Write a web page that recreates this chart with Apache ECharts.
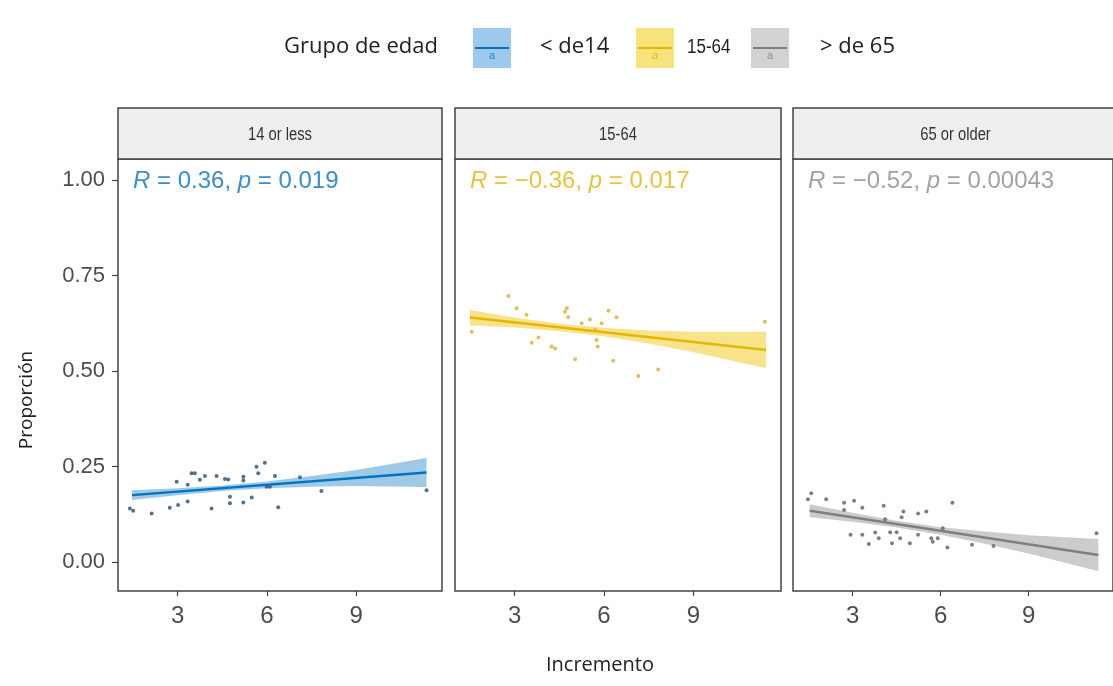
<!DOCTYPE html>
<html>
<head>
<meta charset="utf-8">
<script src="https://cdn.jsdelivr.net/npm/echarts@6/dist/echarts.min.js"></script>
<style>
  html, body { margin: 0; padding: 0; background: #fff; }
  #chart { width: 1113px; height: 686px; }
</style>
</head>
<body>
<div id="chart"></div>
<script>
// panel names and legend labels
const panels = ["14 or less", "15-64", "65 or older"];
const groups = ["< de14", "15-64", "> de 65"];
const stats = [["0.36", "0.019"], ["\u22120.36", "0.017"], ["\u22120.52", "0.00043"]];
const xTicks = [3, 6, 9];
const yTicks = [0, 0.25, 0.5, 0.75, 1];

// scatter points [incremento, proporcion]
const pts14 = [[1.40,0.140],[1.51,0.134],[2.13,0.127],[2.74,0.142],[3.02,0.149],[3.34,0.158],[4.14,0.140],
  [2.97,0.210],[3.34,0.202],[3.47,0.232],[3.58,0.232],[3.75,0.215],[3.92,0.225],[4.31,0.225],[4.59,0.217],
  [4.70,0.216],[4.76,0.171],[4.76,0.154],[5.21,0.156],[5.21,0.223],[5.21,0.213],[5.49,0.169],[5.65,0.249],
  [5.71,0.232],[5.93,0.260],[5.99,0.197],[6.10,0.197],[6.27,0.225],[6.38,0.143],[7.11,0.222],[7.83,0.186],
  [11.36,0.188]];
const pts1564 = [[1.56,0.603],[2.79,0.696],[3.07,0.664],[3.40,0.647],[3.57,0.574],[3.80,0.588],[4.24,0.564],
  [4.36,0.559],[4.69,0.655],[4.75,0.664],[4.80,0.641],[5.03,0.531],[5.25,0.625],[5.53,0.635],[5.70,0.607],
  [5.75,0.581],[5.79,0.564],[5.92,0.625],[6.15,0.658],[6.31,0.527],[6.42,0.641],[7.15,0.487],[7.82,0.504],
  [11.40,0.629]];
const pts65 = [[1.48,0.164],[1.59,0.180],[2.10,0.164],[2.71,0.155],[2.71,0.136],[3.05,0.160],[3.33,0.142],
  [2.93,0.071],[3.33,0.071],[3.55,0.047],[3.77,0.077],[3.89,0.062],[4.06,0.147],[4.11,0.112],[4.28,0.078],
  [4.34,0.049],[4.50,0.078],[4.62,0.062],[4.67,0.117],[4.73,0.132],[4.95,0.049],[5.23,0.127],[5.23,0.071],
  [5.51,0.132],[5.68,0.062],[5.73,0.053],[5.90,0.062],[6.07,0.088],[6.23,0.038],[6.40,0.155],[7.07,0.045],
  [7.80,0.042],[11.31,0.075]];

// fitted lines (endpoints) and confidence bands
const fit14 = [[1.47,0.175],[11.36,0.234]];
const fit1564 = [[1.50,0.640],[11.44,0.555]];
const fit65 = [[1.54,0.134],[11.37,0.018]];

const bandX14 = [1.47, 3, 4.5, 6, 7.5, 9, 11.36];
const low14 = [0.162, 0.175, 0.186, 0.193, 0.197, 0.199, 0.196];
const up14 = [0.188, 0.193, 0.200, 0.211, 0.225, 0.241, 0.272];
const bandX1564 = [1.50, 3, 4.5, 6, 7.5, 9, 11.44];
const low1564 = [0.620, 0.614, 0.604, 0.591, 0.572, 0.549, 0.507];
const up1564 = [0.660, 0.640, 0.624, 0.613, 0.606, 0.603, 0.603];
const bandX65 = [1.54, 3, 4.5, 6, 7.5, 9, 11.37];
const low65 = [0.117, 0.105, 0.090, 0.071, 0.048, 0.022, -0.024];
const up65 = [0.151, 0.129, 0.108, 0.091, 0.080, 0.070, 0.060];

const points = [pts14, pts1564, pts65];
const fits = [fit14, fit1564, fit65];
const bands = [[bandX14, low14, up14], [bandX1564, low1564, up1564], [bandX65, low65, up65]];

const lineColors = ["#0073C2", "#E3B700", "#7f7f7f"];
const bandColors = ["rgba(0,115,194,0.38)", "rgba(239,192,0,0.45)", "rgba(134,134,134,0.42)"];
const dotColors = ["#35597a", "#d9b43a", "#6a6a6a"];
const statColors = ["#3b8dcc", "#e9c43c", "#a2a2a2"];
const keyFills = ["#9ec9ec", "#f7e27c", "#d2d2d2"];

const lefts = [118, 455, 793];
const widths = [324, 326, 325];
const gridTop = 159, gridHeight = 432;
const narrow = "'Liberation Sans Narrow', 'Liberation Sans', Arial, sans-serif";
const sans = "'Liberation Sans', Arial, sans-serif";
const open = "'Open Sans', sans-serif";

const chart = echarts.init(document.getElementById("chart"));

const grid = [], xAxis = [], yAxis = [], series = [], graphic = [];

panels.forEach((name, i) => {
  grid.push({ left: lefts[i], top: gridTop, width: widths[i], height: gridHeight,
    show: true, borderColor: "#444", borderWidth: 1.5, backgroundColor: "#fff" });
  xAxis.push({ gridIndex: i, type: "value", min: i === 2 ? 0.97 : 1.0, max: i === 2 ? 11.87 : (i === 1 ? 11.94 : 11.88),
    splitLine: { show: false }, axisLine: { show: false, onZero: false },
    axisTick: { show: true, length: 5, lineStyle: { color: "#444", width: 1.2 }, customValues: xTicks },
    axisLabel: { show: true, customValues: xTicks, margin: 13, fontSize: 24, color: "#4d4d4d", fontFamily: narrow } });
  yAxis.push({ gridIndex: i, type: "value", min: -0.076, max: 1.055,
    splitLine: { show: false }, axisLine: { show: false, onZero: false },
    axisTick: { show: i === 0, length: 6, lineStyle: { color: "#444", width: 1.2 }, customValues: yTicks },
    axisLabel: { show: i === 0, customValues: yTicks, margin: 13, fontSize: 22, color: "#4d4d4d", fontFamily: sans,
      formatter: v => v.toFixed(2) } });

  // confidence band as a polygon placed through the axes
  const [bx, lo, hi] = bands[i];
  series.push({ type: "custom", xAxisIndex: i, yAxisIndex: i, silent: true, z: 1,
    data: [[bx[0], lo[0]]],
    renderItem: (params, api) => {
      const upper = bx.map((x, k) => api.coord([x, hi[k]]));
      const lower = bx.map((x, k) => api.coord([x, lo[k]])).reverse();
      return { type: "polygon", shape: { points: upper.concat(lower) }, style: { fill: bandColors[i] } };
    } });
  series.push({ type: "scatter", name: groups[i], xAxisIndex: i, yAxisIndex: i, data: points[i],
    symbolSize: 4, itemStyle: { color: dotColors[i], opacity: 0.85 }, z: 2 });
  series.push({ type: "line", xAxisIndex: i, yAxisIndex: i, data: fits[i], symbol: "none",
    lineStyle: { color: lineColors[i], width: 2.5 }, z: 3 });

  // strip header
  graphic.push({ type: "rect", shape: { x: lefts[i], y: 108, width: widths[i], height: 51 },
    style: { fill: "#efefef", stroke: "#444", lineWidth: 1.5 }, z: 10 });
  graphic.push({ type: "text", x: lefts[i] + widths[i] / 2, y: 135, scaleX: 0.82,
    style: { text: name, fontSize: 18, fontFamily: sans, fill: "#333", align: "center", verticalAlign: "middle" }, z: 11 });
  // correlation label
  graphic.push({ type: "text", x: lefts[i] + 15, y: 181,
    style: { text: "{i|R} = " + stats[i][0] + ", {i|p} = " + stats[i][1], fontSize: 24, fontFamily: sans,
      fill: statColors[i], verticalAlign: "middle",
      rich: { i: { fontStyle: "italic", fontSize: 24, fontFamily: sans, fill: statColors[i] } } }, z: 11 });
});

// legend
graphic.push({ type: "text", x: 284, y: 47, style: { text: "Grupo de edad", fontSize: 22, fontFamily: open,
  fill: "#222", verticalAlign: "middle" } });
const keyX = [473, 636, 751];
const labX = [540, 687, 820];
groups.forEach((g, i) => {
  graphic.push({ type: "rect", shape: { x: keyX[i], y: 28, width: 38, height: 40 }, style: { fill: keyFills[i] } });
  graphic.push({ type: "line", shape: { x1: keyX[i] + 2, y1: 48, x2: keyX[i] + 36, y2: 48 },
    style: { stroke: lineColors[i], lineWidth: 2 } });
  graphic.push({ type: "text", x: keyX[i] + 19, y: 56, style: { text: "a", fontSize: 11, fontFamily: sans,
    fill: lineColors[i], align: "center", verticalAlign: "middle", opacity: 0.8 } });
  graphic.push({ type: "text", x: labX[i], y: 47, scaleX: i === 1 ? 0.85 : 1, style: { text: g, fontSize: i === 1 ? 20 : 22,
    fontFamily: i === 1 ? sans : open, fill: "#222", verticalAlign: "middle" } });
});

// axis titles
graphic.push({ type: "text", x: 27, y: 400, rotation: Math.PI / 2,
  style: { text: "Proporci\u00f3n", fontSize: 19, fontFamily: open, fill: "#222",
    align: "center", verticalAlign: "middle" } });
graphic.push({ type: "text", x: 600, y: 665,
  style: { text: "Incremento", fontSize: 20, fontFamily: open, fill: "#222",
    align: "center", verticalAlign: "middle" } });

const option = { animation: false, grid, xAxis, yAxis, series, graphic };
option && chart.setOption(option);
</script>
</body>
</html>
